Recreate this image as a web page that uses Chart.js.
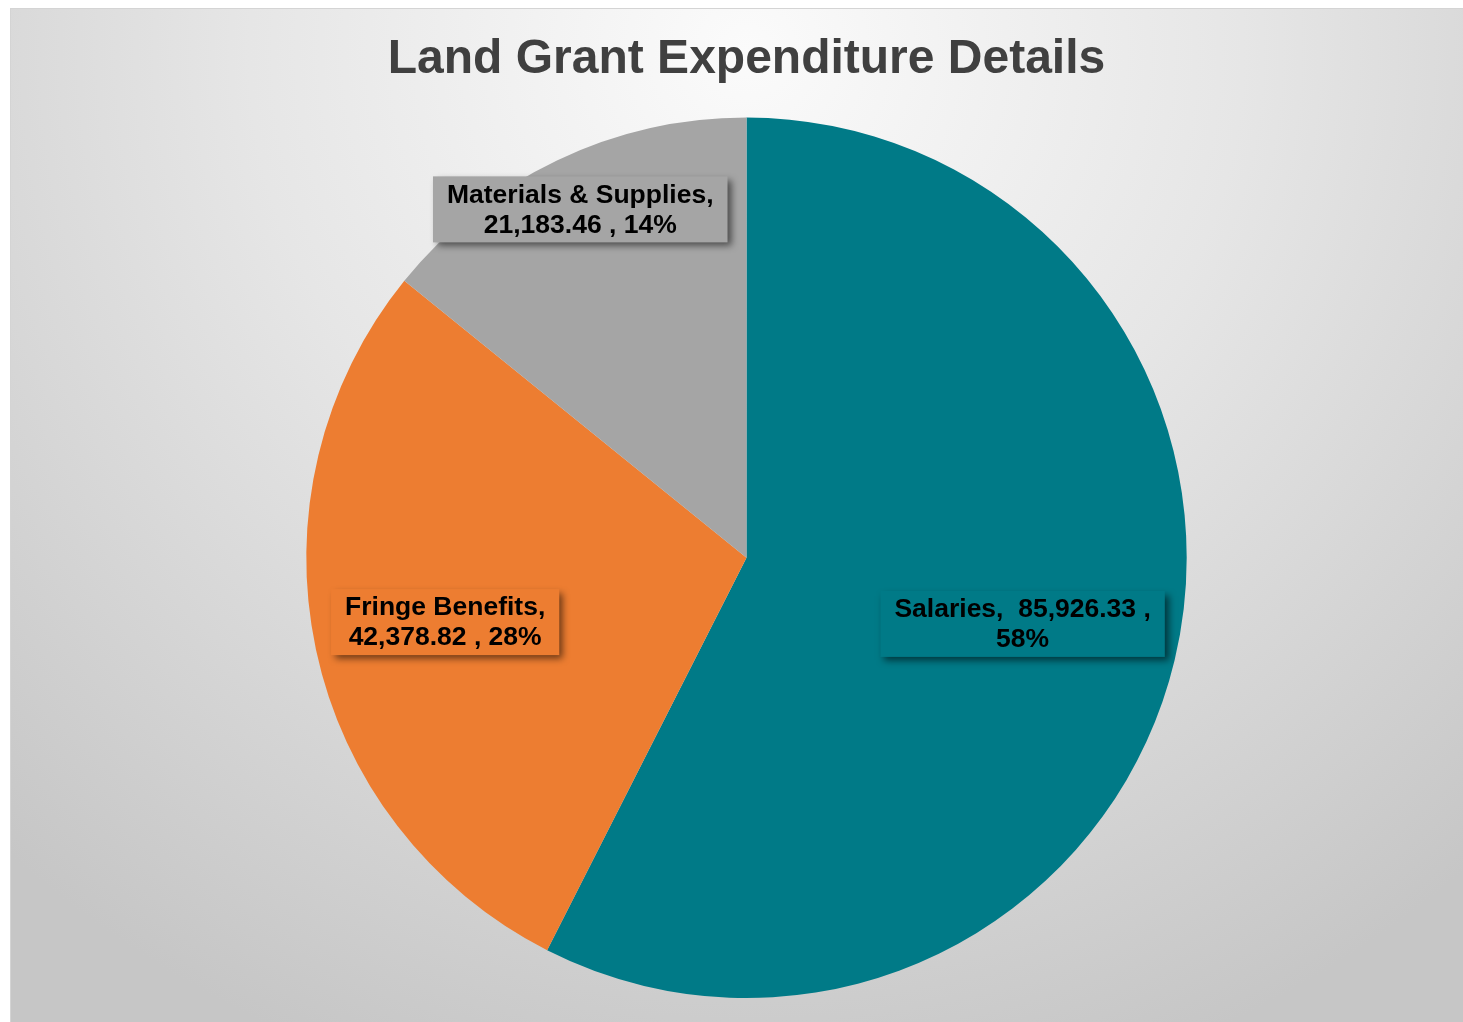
<!DOCTYPE html>
<html>
<head>
<meta charset="utf-8">
<script src="https://cdn.jsdelivr.net/npm/chart.js@4"></script>
<style>
  html, body { margin: 0; padding: 0; background: #fff; overflow: hidden; }
  #wrap {
    position: absolute; left: 10px; top: 8px;
    width: 1471px; height: 1030px;
    border-top: 1px solid #d4d4d4; border-left: 1px solid #d4d4d4;
    background: radial-gradient(ellipse 75% 105% at 50% 4%, #fbfbfb 0%, #e6e6e6 45%, #c6c6c6 100%);
  }
  canvas { display: block; }
</style>
</head>
<body>
<div id="wrap"><canvas id="canvas-chart" width="1471" height="1030"></canvas></div>
<script>
'use strict'

let categories = ["Salaries", "Fringe Benefits", "Materials & Supplies"];
let amounts = [85926.33, 42378.82, 21183.46];
let sliceColors = ["#007A87", "#ED7D31", "#A5A5A5"];

// how far out each label sits (fraction of radius) and where its text breaks
let labelSpots = [0.645, 0.70, 0.877];
let labelLines = [
    (n, v, p) => [n + ",  " + v + " ,", p],
    (n, v, p) => [n + ",", v + " , " + p],
    (n, v, p) => [n + ",", v + " , " + p],
];

let total = amounts.reduce((a, b) => a + b, 0);

// whole percents that still add up to 100 (largest remainder)
let raw = amounts.map(v => v / total * 100);
let pcts = raw.map(Math.floor);
let left = 100 - pcts.reduce((a, b) => a + b, 0);
raw.map((r, i) => [r - Math.floor(r), i])
    .sort((a, b) => b[0] - a[0])
    .slice(0, left)
    .forEach(p => pcts[p[1]] += 1);

let boxLabels = {
    id: "boxLabels",
    afterDatasetsDraw(chart) {
        let ctx = chart.ctx;
        let arcs = chart.getDatasetMeta(0).data;
        ctx.save();
        ctx.font = "bold 26.5px 'Liberation Sans', Arial, sans-serif";
        ctx.textAlign = "center";
        ctx.textBaseline = "middle";
        arcs.forEach(function (arc, i) {
            let mid = (arc.startAngle + arc.endAngle) / 2;
            let r = arc.outerRadius * labelSpots[i];
            let cx = arc.x + Math.cos(mid) * r;
            let cy = arc.y + Math.sin(mid) * r;
            let val = amounts[i].toLocaleString("en-US", { minimumFractionDigits: 2, maximumFractionDigits: 2 });
            let lines = labelLines[i](categories[i], val, pcts[i] + "%");
            let w = Math.max(...lines.map(l => ctx.measureText(l).width)) + 28;
            let lh = 30;
            let h = lines.length * lh + 6;

            ctx.save();
            ctx.shadowColor = "rgba(0,0,0,0.55)";
            ctx.shadowBlur = 7;
            ctx.shadowOffsetX = 4;
            ctx.shadowOffsetY = 4;
            ctx.fillStyle = sliceColors[i];
            ctx.fillRect(cx - w / 2, cy - h / 2, w, h);
            ctx.restore();

            ctx.fillStyle = "#000";
            lines.forEach(function (l, k) {
                ctx.fillText(l, cx, cy - (lines.length - 1) * lh / 2 + k * lh + 1);
            });
        });
        ctx.restore();
    },
};

let chart = document.getElementById("canvas-chart").getContext("2d");

let chart1 = new Chart(chart, {
    type: "pie",
    data: {
        labels: categories,
        datasets: [
            {
                data: amounts,
                backgroundColor: sliceColors,
                borderWidth: 0,
                hoverOffset: 0,
            },
        ],
    },
    options: {
        responsive: false,
        animation: false,
        layout: { padding: { bottom: 41 } },
        plugins: {
            legend: { display: false },
            tooltip: { enabled: false },
            title: {
                display: true,
                text: "Land Grant Expenditure Details",
                color: "#404040",
                font: { size: 48, weight: "bold", family: "'Liberation Sans', Arial, sans-serif" },
                padding: { top: 22, bottom: 29 },
            },
        },
    },
    plugins: [boxLabels],
});
</script>
</body>
</html>
